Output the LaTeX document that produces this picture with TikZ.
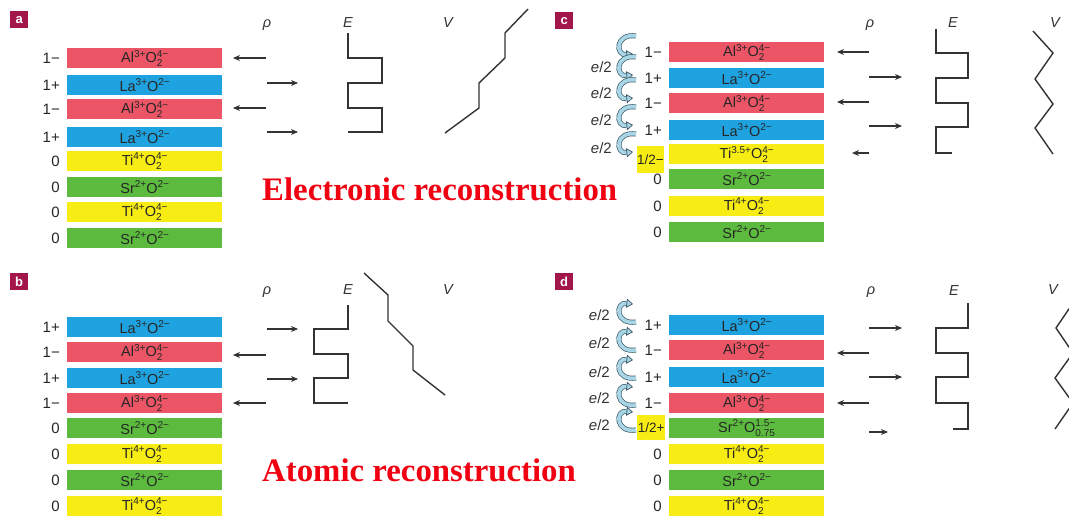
\documentclass[tikz,border=0pt]{standalone}
\usepackage{fontspec}
\setmainfont{Liberation Sans}
\newfontfamily\redserif{Liberation Serif}
\usetikzlibrary{arrows.meta}

\definecolor{barred}{HTML}{EC5566}
\definecolor{barblue}{HTML}{1FA3E0}
\definecolor{baryellow}{HTML}{F7EC13}
\definecolor{bargreen}{HTML}{5CBB3E}
\definecolor{tagred}{HTML}{A3164A}
\definecolor{curlyblue}{HTML}{A9D6E6}
\definecolor{curlyedge}{HTML}{3C5866}
\definecolor{linegray}{HTML}{333333}
\definecolor{titlered}{HTML}{F00010}

\newcommand\supf{\fontsize{10}{10}\selectfont}
\newcommand\myup[1]{\raisebox{5.5pt}{\supf #1}}
\newcommand\myupdn[2]{{\supf\setbox0\hbox{#1}\setbox2\hbox{#2}\ifdim\wd0<\wd2 \wd0=\wd2\fi\rlap{\raisebox{-3.8pt}{\box2}}\raisebox{5.5pt}{\box0}}}
\newcommand\AlO{Al\myup{3+}O\myupdn{4−}{2}}
\newcommand\LaO{La\myup{3+}O\myup{2−}}
\newcommand\TiO{Ti\myup{4+}O\myupdn{4−}{2}}
\newcommand\SrO{Sr\myup{2+}O\myup{2−}}
\newcommand\TiHalf{Ti\myup{3.5+}O\myupdn{4−}{2}}
\newcommand\SrHalf{Sr\myup{2+}O\myupdn{1.5−}{0.75}}

\newcommand\barfont{\fontsize{14.5}{14.5}\selectfont}
\newcommand\chargefont{\fontsize{15}{15}\selectfont}
\newcommand\axfont{\itshape\fontsize{14.5}{14.5}\selectfont}
\newcommand\tagfont{\bfseries\fontsize{13}{13}\selectfont}
\newcommand\titlefont{\redserif\bfseries\fontsize{32.8}{34}\selectfont}

\tikzset{
  barnode/.style={minimum width=155pt, minimum height=20pt, inner sep=0pt, anchor=north west, font=\barfont, text=black!85},
  charge/.style={anchor=east, font=\chargefont, inner sep=0pt, text=black!85},
  halfbox/.style={fill=baryellow, anchor=north west, inner sep=0pt, font=\fontsize{13.5}{13.5}\selectfont, text=black!85},
  rhoarrow/.style={-{Stealth[length=7pt,width=6pt]}, line width=1.1pt, draw=linegray},
  prof/.style={line width=1.4pt, draw=linegray},
  axlab/.style={font=\axfont, text=linegray, inner sep=0pt},
  tag/.style={fill=tagred, text=white, font=\tagfont, minimum width=18pt, minimum height=17pt, inner sep=0pt, anchor=north west},
  elab/.style={anchor=east, font=\chargefont, inner sep=0pt, text=linegray},
  curly/.style={draw=curlyedge, line width=0.7pt, double=curlyblue, double distance=3.6pt},
  title/.style={anchor=base west, font=\titlefont, text=titlered, inner sep=0pt},
  curlydn/.pic={\draw[curly, -{Triangle[length=6.5pt,width=9pt,fill=curlyblue]}] (8,-9) .. controls (-13,-12) and (-13,11) .. (5,9);},
  curlyup/.pic={\draw[curly, {Triangle[length=6.5pt,width=9pt,fill=curlyblue]}-] (5,-9) .. controls (-13,-11) and (-13,12) .. (8,9);}
}

\begin{document}
\begin{tikzpicture}[x=1pt,y=-1pt]
\useasboundingbox[fill=white] (0,0) rectangle (1069,519);

% ---------------- panel tags
\node[tag] (taga) at (10,11) {a};
\node[tag] (tagb) at (10,273) {b};
\node[tag] (tagc) at (555,12) {c};
\node[tag] (tagd) at (555,273) {d};

% ---------------- panel a
\foreach \y/\c/\t/\q [count=\i] in {48/barred/\AlO/1−, 75/barblue/\LaO/1+, 99/barred/\AlO/1−, 127/barblue/\LaO/1+, 151/baryellow/\TiO/0, 177/bargreen/\SrO/0, 202/baryellow/\TiO/0, 228/bargreen/\SrO/0}{
  \node[barnode, fill=\c] (a\i) at (67,\y) {\t};
  \node[charge] (qa\i) at ([xshift=-7pt]a\i.west) {\q};
}
\node[axlab] (rhoa) at (267,25) {ρ};
\node[axlab] (Ea) at (348,23) {E};
\node[axlab] (Va) at (448,23) {V};
\foreach \y in {58,108} \draw[rhoarrow] (266,\y) -- (233,\y);
\foreach \y in {83,132} \draw[rhoarrow] (267,\y) -- (298,\y);
\draw[prof] (348,33) -- (348,58) -- (382,58) -- (382,83) -- (348,83) -- (348,108) -- (382,108) -- (382,132) -- (348,132);
\draw[prof] (445,133) -- (479,108) -- (479,83) -- (505,58) -- (505,33) -- (528,9);
\node[title] (ttl1) at (262,200) {Electronic reconstruction};

% ---------------- panel b
\foreach \y/\c/\t/\q [count=\i] in {317/barblue/\LaO/1+, 342/barred/\AlO/1−, 368/barblue/\LaO/1+, 393/barred/\AlO/1−, 418/bargreen/\SrO/0, 444/baryellow/\TiO/0, 470/bargreen/\SrO/0, 496/baryellow/\TiO/0}{
  \node[barnode, fill=\c] (b\i) at (67,\y) {\t};
  \node[charge] (qb\i) at ([xshift=-7pt]b\i.west) {\q};
}
\node[axlab] (rhob) at (267,292) {ρ};
\node[axlab] (Eb) at (348,290) {E};
\node[axlab] (Vb) at (448,290) {V};
\foreach \y in {329,379} \draw[rhoarrow] (267,\y) -- (298,\y);
\foreach \y in {355,403} \draw[rhoarrow] (266,\y) -- (233,\y);
\draw[prof] (348,305) -- (348,329) -- (314,329) -- (314,354) -- (348,354) -- (348,378) -- (314,378) -- (314,403) -- (348,403);
\draw[prof] (364,273) -- (388,295) -- (388,321) -- (413,346) -- (413,370) -- (445,395);
\node[title] (ttl2) at (262,481) {Atomic reconstruction};

% ---------------- panel c
\foreach \y/\c/\t [count=\i] in {42/barred/\AlO, 68/barblue/\LaO, 93/barred/\AlO, 120/barblue/\LaO, 144/baryellow/\TiHalf, 169/bargreen/\SrO, 196/baryellow/\TiO, 222/bargreen/\SrO}{
  \node[barnode, fill=\c] (c\i) at (669,\y) {\t};
}
\foreach \q [count=\i] in {1−,1+,1−,1+}{
  \node[charge] (qc\i) at ([xshift=-7pt]c\i.west) {\q};
}
\foreach \i in {6,7,8}{
  \node[charge] (qc\i) at ([xshift=-7pt]c\i.west) {0};
}
\node[halfbox, minimum width=26pt, minimum height=27pt] (qc5) at (637,146) {1/2−};
\foreach \y [count=\i] in {67,93,120,148}
  \node[elab] (ec\i) at (612,\y) {\textit{e}/2};
\foreach \y in {45,66,89,116,143} \pic at (628,\y) {curlydn};
\node[axlab] (rhoc) at (870,25) {ρ};
\node[axlab] (Ec) at (953,23) {E};
\node[axlab] (Vc) at (1055,23) {V};
\foreach \y in {52,102} \draw[rhoarrow] (869,\y) -- (837,\y);
\foreach \y in {77,126} \draw[rhoarrow] (869,\y) -- (902,\y);
\draw[rhoarrow] (869,153) -- (852,153);
\draw[prof] (936,29) -- (936,53) -- (968,53) -- (968,78) -- (936,78) -- (936,103) -- (968,103) -- (968,127) -- (936,127) -- (936,153) -- (952,153);
\draw[prof] (1033,31) -- (1053,53) -- (1035,79) -- (1053,104) -- (1035,128) -- (1053,154);

% ---------------- panel d
\foreach \y/\c/\t [count=\i] in {315/barblue/\LaO, 340/barred/\AlO, 367/barblue/\LaO, 393/barred/\AlO, 418/bargreen/\SrHalf, 444/baryellow/\TiO, 470/bargreen/\SrO, 496/baryellow/\TiO}{
  \node[barnode, fill=\c] (d\i) at (669,\y) {\t};
}
\foreach \q [count=\i] in {1+,1−,1+,1−}{
  \node[charge] (qd\i) at ([xshift=-7pt]d\i.west) {\q};
}
\foreach \i in {6,7,8}{
  \node[charge] (qd\i) at ([xshift=-7pt]d\i.west) {0};
}
\node[halfbox, minimum width=28pt, minimum height=25pt] (qd5) at (637,415) {1/2+};
\foreach \y [count=\i] in {315,343,372,398,425}
  \node[elab] (ed\i) at (610,\y) {\textit{e}/2};
\foreach \y in {313,341,369,396,421} \pic at (628,\y) {curlyup};
\node[axlab] (rhod) at (871,292) {ρ};
\node[axlab] (Ed) at (954,291) {E};
\node[axlab] (Vd) at (1053,290) {V};
\foreach \y in {328,377} \draw[rhoarrow] (869,\y) -- (902,\y);
\foreach \y in {353,403} \draw[rhoarrow] (869,\y) -- (837,\y);
\draw[rhoarrow] (869,432) -- (888,432);
\draw[prof] (968,303) -- (968,328) -- (936,328) -- (936,353) -- (968,353) -- (968,377) -- (936,377) -- (936,403) -- (968,403) -- (968,429) -- (953,429);
\begin{scope}
\clip (0,0) rectangle (1069,519);
\draw[prof] (1073,303) -- (1056,328) -- (1073,353) -- (1055,378) -- (1073,403) -- (1055,429);
\end{scope}
\end{tikzpicture}
\end{document}
